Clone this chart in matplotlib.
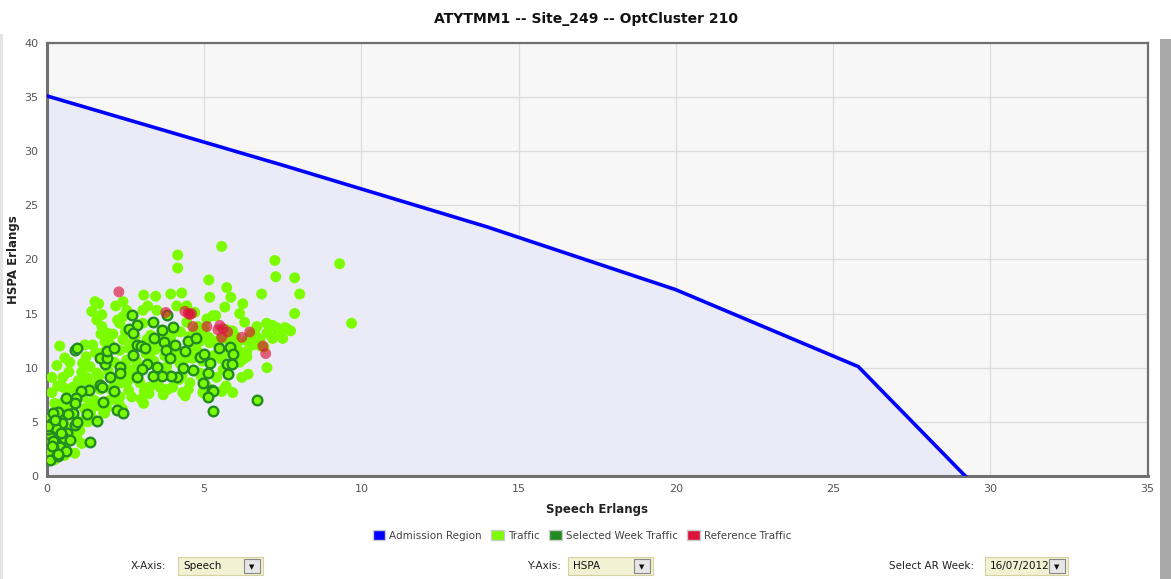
import matplotlib.pyplot as plt
from matplotlib.patches import Rectangle
import numpy as np

# admission region boundary
ar_x = [0, 7.5, 14, 20, 25.8, 29.2]
ar_y = [35.1, 28.7, 23.0, 17.2, 10.1, 0]

# traffic (all weeks)
traffic_x = [4.16, 5.56, 4.16, 7.25, 7.28, 7.88, 8.04, 7.88, 6.83, 5.15, 5.18, 5.72, 5.85, 5.66,
             6.23, 4.29, 3.94, 3.46, 3.08, 2.19, 1.53, 1.65, 1.43, 1.59, 1.75, 1.91, 1.72, 2.10,
             2.42, 3.21, 4.13, 4.45, 5.37, 6.13, 6.29, 6.99, 7.18, 7.57, 7.63, 7.50, 7.18, 6.68,
             6.77, 6.55, 6.36, 6.36, 6.13, 6.20, 5.91, 5.56, 4.96, 4.32, 3.08, 2.70, 2.32, 1.59,
             1.11, 0.89, 0.67, 0.41, 0.32, 0.16, 0.51, 0.57, 0.73, 1.21, 1.46, 1.14, 1.37, 1.11,
             0.83, 0.16, 0.25, 1.14, 1.46, 1.84, 0.95, 0.83, 0.64, 0.35, 2.42, 2.54, 2.32, 3.05,
             3.05, 3.50, 4.70, 5.09, 5.28, 4.80, 5.72, 5.50, 5.18, 4.77, 4.45, 4.23, 3.81, 3.27,
             3.18, 2.42, 2.32, 2.54, 2.64, 2.23, 2.54, 2.96, 3.27, 3.59, 4.00, 4.55, 4.86, 5.40,
             1.27, 1.59, 1.05, 0.51, 0.48, 1.37, 1.21, 1.05, 0.41, 0.19, 0.10, 0.32, 0.57, 0.25,
             9.31, 9.69, 4.45, 3.70, 4.90, 5.00, 6.00, 6.50, 7.00, 5.80, 6.80, 3.90, 2.80, 2.00,
             1.80, 2.60, 3.40, 4.10, 4.60, 5.30, 6.00, 2.90, 3.60, 4.30, 1.00, 0.70, 1.30, 1.60,
             2.10, 2.80, 3.50, 4.20, 4.90, 5.60, 0.20, 0.50, 0.80, 1.20, 1.50, 2.00, 2.60, 3.10,
             3.70, 4.40, 5.00, 5.70, 6.40, 7.00, 0.30, 0.60, 0.90, 1.40, 1.90, 2.40, 3.00, 0.45,
             0.75, 1.10, 1.70, 2.20, 2.90, 3.40, 3.90, 4.60, 5.20, 5.90, 6.60, 7.30, 0.15, 0.40,
             0.70, 1.00, 1.30, 1.80, 2.30, 0.05, 0.25, 0.55, 0.85, 3.80, 4.70, 5.40, 6.10, 6.90,
             2.50, 2.75, 3.30, 3.60, 3.95, 4.25, 4.55, 4.85, 5.15, 5.45, 5.75, 6.05, 6.35, 6.65,
             7.35, 7.75, 2.15, 2.45, 2.85, 3.15, 3.45, 3.75, 4.05, 4.35, 4.65, 4.95, 5.25, 5.55,
             1.25, 1.55, 1.85, 2.05, 2.35, 2.65, 0.35, 0.65, 0.95, 1.25, 1.65, 1.95, 0.50, 0.80,
             1.10, 1.40, 0.15, 0.45, 0.75, 1.05, 3.25, 3.85, 4.50, 5.05, 5.65, 6.25, 1.75, 2.25]
traffic_y = [20.4, 21.2, 19.2, 19.9, 18.4, 18.3, 16.8, 15.0, 16.8, 18.1, 16.5, 17.4, 16.5, 15.6,
             15.9, 16.9, 16.8, 16.6, 16.7, 15.7, 16.1, 15.9, 15.2, 14.4, 13.8, 13.2, 13.1, 13.1,
             14.7, 15.7, 15.7, 15.7, 14.8, 15.0, 14.2, 14.1, 13.9, 13.7, 13.6, 12.7, 12.7, 13.8,
             12.6, 12.1, 11.5, 11.0, 10.5, 9.1, 7.7, 7.8, 7.7, 7.7, 6.7, 7.3, 7.3, 6.5,
             3.0, 2.1, 2.2, 12.0, 10.2, 9.1, 9.1, 10.9, 10.5, 12.1, 12.1, 10.4, 10.1, 9.6,
             8.2, 7.7, 6.7, 7.3, 8.2, 5.8, 3.6, 4.2, 3.0, 3.2, 16.1, 15.3, 14.1, 14.1,
             15.3, 15.3, 15.1, 14.5, 14.8, 13.8, 13.5, 12.6, 12.3, 11.6, 11.0, 10.4, 10.1, 11.0,
             12.6, 12.6, 11.6, 10.7, 9.8, 8.6, 8.6, 8.6, 8.2, 8.2, 8.2, 8.6, 9.5, 9.1,
             9.1, 9.5, 8.7, 8.2, 6.7, 6.7, 5.2, 4.2, 4.5, 4.2, 5.2, 2.4, 1.9, 1.5,
             19.6, 14.1, 14.2, 13.4, 12.9, 13.6, 12.9, 13.1, 13.2, 11.4, 12.0, 12.3, 12.9, 12.2,
             11.4, 11.8, 12.1, 11.3, 10.9, 11.1, 12.2, 10.1, 9.8, 9.3, 8.8, 9.6, 9.0, 8.5,
             8.9, 9.3, 8.8, 8.9, 9.2, 9.8, 4.9, 5.5, 6.0, 6.2, 7.0, 7.0, 7.9, 7.8,
             7.5, 7.4, 8.1, 8.3, 9.4, 10.0, 3.9, 4.6, 5.3, 5.6, 6.3, 6.2, 7.1, 6.1,
             6.8, 7.4, 8.0, 8.9, 9.7, 10.6, 11.2, 11.9, 12.6, 13.4, 13.2, 13.7, 3.3, 2.8,
             3.9, 4.6, 5.0, 5.9, 6.6, 2.3, 2.0, 3.4, 4.5, 13.0, 13.4, 12.3, 11.5, 11.9,
             13.3, 12.4, 13.0, 12.7, 12.9, 13.3, 12.9, 12.4, 12.8, 12.3, 12.6, 12.2, 12.5, 12.9,
             13.2, 13.4, 10.5, 10.2, 10.6, 11.3, 11.7, 11.1, 11.3, 10.7, 10.9, 10.6, 11.0, 10.8,
             11.0, 11.4, 12.4, 8.0, 8.6, 9.0, 8.3, 7.9, 7.8, 8.8, 9.2, 9.7, 6.3, 6.9,
             7.6, 6.1, 3.0, 3.6, 4.1, 4.8, 7.6, 8.0, 8.0, 8.4, 8.1, 10.8, 14.9, 14.4]

# selected week traffic
week_x = [2.70, 3.37, 3.81, 2.86, 2.61, 2.73, 4.00, 3.66, 3.40, 3.72, 4.07, 4.48, 4.74, 2.86,
          2.99, 3.12, 2.73, 3.78, 4.39, 3.91, 4.86, 4.99, 5.47, 5.82, 5.91, 5.72, 5.88, 5.75,
          5.18, 5.12, 4.96, 5.24, 5.28, 5.12, 6.68, 5.28, 4.64, 4.32, 4.13, 3.94, 3.66, 3.37,
          3.50, 3.18, 3.02, 2.86, 2.32, 2.32, 2.00, 1.84, 1.68, 1.91, 1.91, 2.13, 0.89, 0.95,
          1.68, 1.75, 1.34, 1.08, 2.13, 1.78, 0.92, 0.60, 0.89, 2.23, 2.42, 1.59, 1.27, 0.83,
          0.67, 0.35, 0.19, 0.16, 0.48, 0.89, 0.95, 0.64, 0.25, 0.10, 1.37, 0.41, 0.19, 0.03,
          0.10, 0.35, 0.00, 0.05, 0.30, 0.55, 0.20, 0.45, 0.75, 0.15, 0.60, 0.35, 0.05, 0.25]
week_y = [14.9, 14.2, 14.9, 13.9, 13.6, 13.2, 13.8, 13.5, 12.7, 12.4, 12.1, 12.5, 12.7, 12.1,
          12.0, 11.8, 11.2, 11.6, 11.5, 10.9, 11.0, 11.3, 11.8, 11.9, 11.3, 10.3, 10.3, 9.4,
          10.4, 9.5, 8.6, 7.9, 7.8, 7.3, 7.0, 6.0, 9.8, 10.0, 9.1, 9.2, 9.2, 9.2,
          10.1, 10.3, 9.9, 9.1, 10.1, 9.5, 9.1, 10.3, 10.9, 10.9, 11.5, 11.8, 11.6, 11.8,
          8.4, 8.2, 7.9, 7.8, 7.8, 6.8, 7.2, 7.2, 6.7, 6.1, 5.8, 5.1, 5.7, 5.8,
          5.7, 5.9, 5.8, 4.9, 4.9, 4.7, 5.0, 4.0, 3.8, 3.6, 3.1, 2.7, 2.6, 2.2,
          1.5, 1.8, 3.0, 4.3, 4.4, 3.5, 3.2, 4.0, 3.3, 2.8, 2.3, 2.0, 4.6, 5.2]

# reference traffic
ref_x = [2.29, 3.78, 4.39, 4.55, 4.64, 4.50, 5.09, 5.50, 5.44, 5.75, 5.56, 6.20, 6.45, 6.87,
         6.96, 4.60, 5.60]
ref_y = [17.0, 15.1, 15.2, 14.9, 13.8, 15.0, 13.8, 13.9, 13.5, 13.3, 12.8, 12.8, 13.3, 12.0,
         11.3, 15.0, 13.6]

fig = plt.figure(figsize=(11.71, 5.79), dpi=100)
ax = fig.add_axes([0.040, 0.178, 0.940, 0.748])
ax.set_facecolor('#f7f7f7')

ax.fill_between(ar_x, ar_y, 0, color='#ebebf7', zorder=1)
ax.plot(ar_x, ar_y, color='#0000ff', lw=2.6, zorder=5)

ax.scatter(traffic_x, traffic_y, s=62, color='#7cfc00', edgecolors='none', zorder=3)
ax.scatter(week_x, week_y, s=48, facecolor='#7cfc00', edgecolors='#228b22', linewidths=1.7, zorder=4)
ax.scatter(ref_x, ref_y, s=62, color='#dc143c', alpha=0.65, edgecolors='none', zorder=6)

ax.set_xlim(0, 35)
ax.set_ylim(0, 40)
ax.set_xticks(range(0, 36, 5))
ax.set_yticks(range(0, 41, 5))
ax.grid(True, color='#dcdcdc', lw=0.9, zorder=0)
ax.set_axisbelow(True)
ax.tick_params(length=0, labelsize=8, colors='#555555', pad=6)
for side in ['left', 'bottom']:
    ax.spines[side].set_color('#707070')
    ax.spines[side].set_linewidth(2.2)
for side in ['top', 'right']:
    ax.spines[side].set_color('#707070')
    ax.spines[side].set_linewidth(1.6)

ax.set_xlabel('Speech Erlangs', fontsize=8.5, fontweight='bold', color='#222222', labelpad=6)
ax.set_ylabel('HSPA Erlangs', fontsize=8.5, fontweight='bold', color='#222222', labelpad=3)
fig.text(0.5, 0.968, 'ATYTMM1 -- Site_249 -- OptCluster 210', ha='center', va='center',
         fontsize=10, fontweight='bold', color='#111111')

# legend
leg_items = [('Admission Region', '#0000ff'), ('Traffic', '#7cfc00'),
             ('Selected Week Traffic', '#228b22'), ('Reference Traffic', '#dc143c')]
handles = [Rectangle((0, 0), 1, 1, facecolor=c, edgecolor='#cccccc') for _, c in leg_items]
fig.legend(handles, [n for n, _ in leg_items], loc='center', bbox_to_anchor=(0.497, 0.075),
           ncol=4, frameon=False, fontsize=7.5, handlelength=1.2, handleheight=1.0,
           handletextpad=0.4, columnspacing=0.9, labelcolor='#444444')

# bottom controls
W, H = 1171.0, 579.0
def dropdown(label, lx, bx, bw, value):
    y0 = 557
    fig.text(lx / W, 1 - 566 / H, label, ha='right', va='center', fontsize=7.5, color='#222222')
    fig.patches.append(Rectangle((bx / W, 1 - (y0 + 18) / H), bw / W, 18 / H, transform=fig.transFigure,
                                 facecolor='#f3f1d3', edgecolor='#d4d2a0', lw=0.8))
    fig.text((bx + 5) / W, 1 - 566 / H, value, ha='left', va='center', fontsize=7.5, color='#111111')
    fig.patches.append(Rectangle(((bx + bw - 19) / W, 1 - (y0 + 16) / H), 16 / W, 14 / H,
                                 transform=fig.transFigure, facecolor='#e6e6e6', edgecolor='#888888', lw=0.8))
    fig.text((bx + bw - 11) / W, 1 - 567 / H, '\u25bc', ha='center', va='center', fontsize=5, color='#111111')

dropdown('X-Axis:', 166, 178, 85, 'Speech')
dropdown('Y-Axis:', 561, 568, 85, 'HSPA')
dropdown('Select AR Week:', 974, 985, 83, '16/07/2012')

# page frame
fig.patches.append(Rectangle((0, 0), 3 / W, 545 / H, transform=fig.transFigure,
                             facecolor='#e4e4e4', edgecolor='none'))
fig.patches.append(Rectangle((1160 / W, 0), 11 / W, 540 / H, transform=fig.transFigure,
                             facecolor='#a8a8a8', edgecolor='none'))

fig.savefig('out.png', dpi=100)
